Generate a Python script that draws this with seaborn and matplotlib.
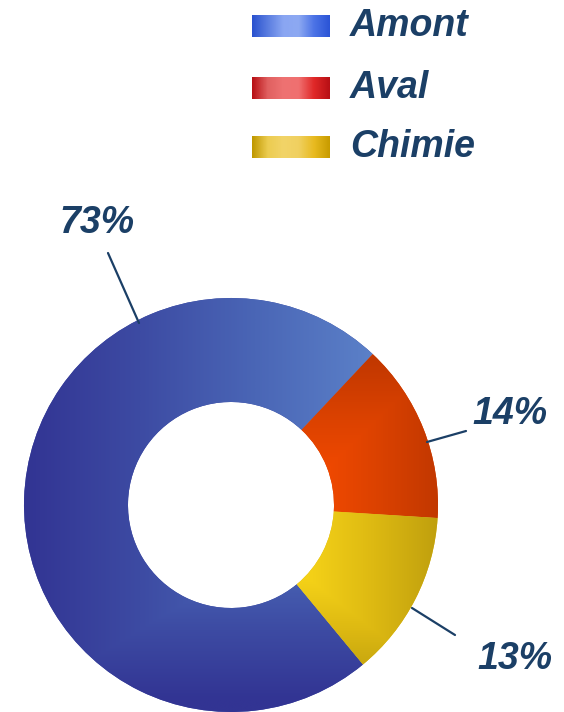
import numpy as np
import matplotlib
matplotlib.use("Agg")
import matplotlib.pyplot as plt
import seaborn as sns
from matplotlib.colors import LinearSegmentedColormap

# Données
categories = ["Amont", "Aval", "Chimie"]
shares = [73, 14, 13]
pct_labels = ["73%", "14%", "13%"]

# Couleurs (dégradés) des secteurs et des pastilles de légende
wedge_cols = {
    "Amont": ["#323493", "#3D4BA3", "#4A66B6", "#5B80C8"],
    "Aval": ["#F44A00", "#DC4200", "#C23800"],
    "Chimie": ["#F4D118", "#DDB912", "#C0A00E"],
}
legend_grad = {
    "Amont": ["#2A52CF", "#5A7DE0", "#8AA6F2", "#8DA9F2", "#4C73E6", "#2B55D6"],
    "Aval": ["#B81015", "#E06060", "#EE7272", "#F07070", "#E02828", "#B81015"],
    "Chimie": ["#C09800", "#ECCC50", "#F2D468", "#F0D060", "#E8BA20", "#C89C00"],
}
text_color = "#1B3F66"

sns.set_theme(style="white")
plt.rcParams["font.family"] = ["Liberation Sans", "DejaVu Sans"]

H = 712
fig = plt.figure(figsize=(5.64, 7.12), dpi=100)
ax = fig.add_axes([0, 0, 1, 1])

# Donut
cx, cy_img, R = 231, 505, 207
cy = H - cy_img
wedges, _ = ax.pie(shares, startangle=-50.4, counterclock=False, radius=R,
                   center=(cx, cy), wedgeprops=dict(width=104, edgecolor="none"))

# Dégradés (coordonnées image, y vers le bas)
X, Y = np.meshgrid(np.linspace(cx - R, cx + R, 420), np.linspace(cy_img - R, cy_img + R, 420))


def shade(cat):
    if cat == "Amont":
        tx = np.clip((X - 24) / (372 - 24), 0, 1)
        ty = np.clip((700 - Y) / (700 - 490), 0, 1)
        return np.minimum(tx, ty)
    if cat == "Aval":
        tx = np.clip((X - 315) / (438 - 315), 0, 1)
        ty = np.clip((480 - Y) / (480 - 360), 0, 1)
        return np.maximum(tx, ty)
    tx = np.clip((X - 310) / (438 - 310), 0, 1)
    ty = np.clip((Y - 580) / (680 - 580), 0, 1)
    return np.maximum(tx, ty)


for w, cat in zip(wedges, categories):
    cmap = LinearSegmentedColormap.from_list(cat, wedge_cols[cat])
    w.set_facecolor(wedge_cols[cat][1])
    im = ax.imshow(shade(cat), cmap=cmap, vmin=0, vmax=1, aspect="auto",
                   extent=(cx - R, cx + R, cy - R, cy + R), zorder=2)
    im.set_clip_path(w)

# Légende
leg_y = [26, 88, 147]
for cat, yy in zip(categories, leg_y):
    cmap = LinearSegmentedColormap.from_list("l" + cat, legend_grad[cat])
    grad = np.tile(np.linspace(0, 1, 100), (5, 1))
    ax.imshow(grad, cmap=cmap, aspect="auto", zorder=3,
              extent=(252, 330, H - yy - 11, H - yy + 11))
    ax.text(350, H - yy, cat, fontsize=27, fontweight="bold", style="italic",
            color=text_color, va="center", ha="left")

# Étiquettes de pourcentage et lignes de rappel
label_pos = [(97, 223), (510, 414), (515, 659)]
leader = [((139, 323), (108, 253)), ((427, 442), (466, 431)), ((412, 608), (455, 635))]
for lab, (tx, ty), (p0, p1) in zip(pct_labels, label_pos, leader):
    ax.plot([p0[0], p1[0]], [H - p0[1], H - p1[1]], color=text_color, lw=1.6, zorder=4)
    ax.text(tx, H - ty, lab, fontsize=27, fontweight="bold", style="italic",
            color=text_color, ha="center", va="center")

ax.set_xlim(0, 564)
ax.set_ylim(0, H)
ax.axis("off")

fig.savefig("out.png", dpi=100)
